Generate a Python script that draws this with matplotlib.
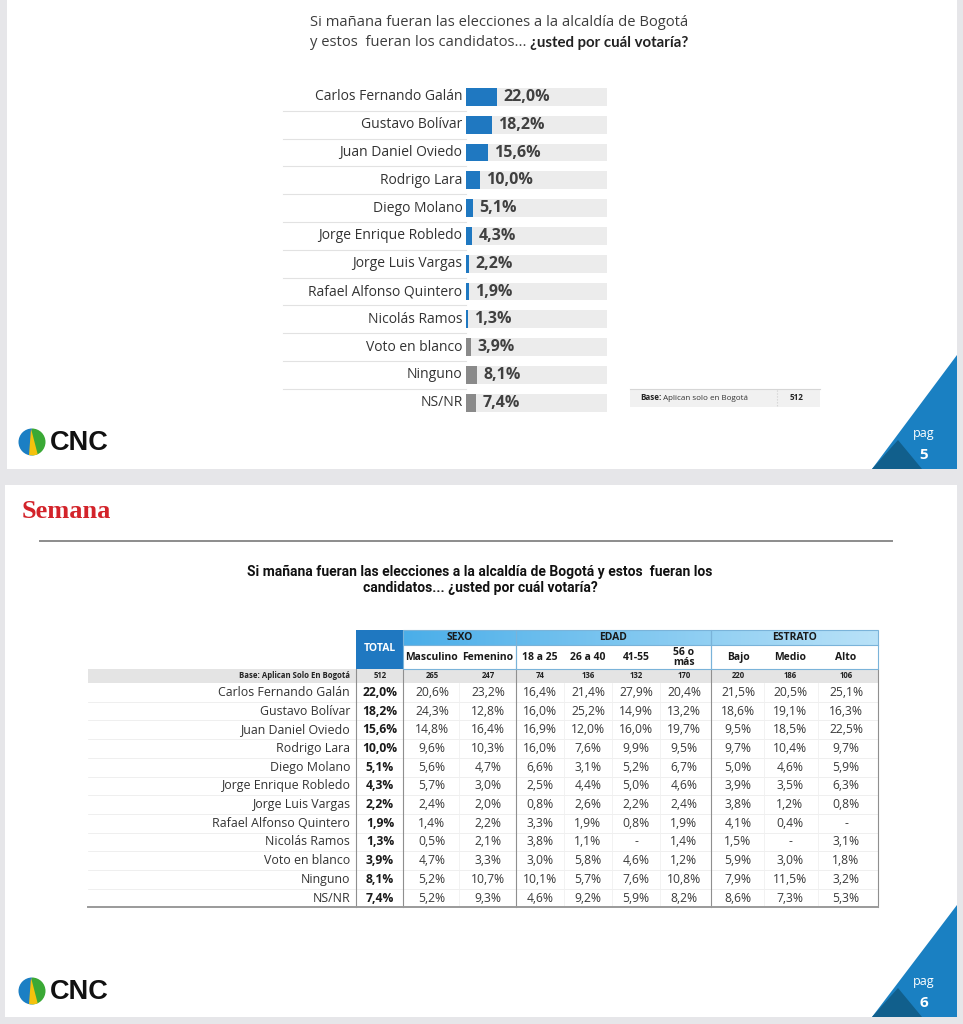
import numpy as np
import matplotlib
matplotlib.use("Agg")
from matplotlib import pyplot as plt
from matplotlib.patches import Rectangle, Polygon, Circle, Wedge

plt.rcParams['font.family'] = ['Open Sans', 'DejaVu Sans']

W, H = 963, 1024

# data
candidates = ["Carlos Fernando Galán", "Gustavo Bolívar", "Juan Daniel Oviedo", "Rodrigo Lara",
              "Diego Molano", "Jorge Enrique Robledo", "Jorge Luis Vargas", "Rafael Alfonso Quintero",
              "Nicolás Ramos", "Voto en blanco", "Ninguno", "NS/NR"]
total = [22.0, 18.2, 15.6, 10.0, 5.1, 4.3, 2.2, 1.9, 1.3, 3.9, 8.1, 7.4]
masculino = [20.6, 24.3, 14.8, 9.6, 5.6, 5.7, 2.4, 1.4, 0.5, 4.7, 5.2, 5.2]
femenino = [23.2, 12.8, 16.4, 10.3, 4.7, 3.0, 2.0, 2.2, 2.1, 3.3, 10.7, 9.3]
edad_18_25 = [16.4, 16.0, 16.9, 16.0, 6.6, 2.5, 0.8, 3.3, 3.8, 3.0, 10.1, 4.6]
edad_26_40 = [21.4, 25.2, 12.0, 7.6, 3.1, 4.4, 2.6, 1.9, 1.1, 5.8, 5.7, 9.2]
edad_41_55 = [27.9, 14.9, 16.0, 9.9, 5.2, 5.0, 2.2, 0.8, None, 4.6, 7.6, 5.9]
edad_56 = [20.4, 13.2, 19.7, 9.5, 6.7, 4.6, 2.4, 1.9, 1.4, 1.2, 10.8, 8.2]
estrato_bajo = [21.5, 18.6, 9.5, 9.7, 5.0, 3.9, 3.8, 4.1, 1.5, 5.9, 7.9, 8.6]
estrato_medio = [20.5, 19.1, 18.5, 10.4, 4.6, 3.5, 1.2, 0.4, None, 3.0, 11.5, 7.3]
estrato_alto = [25.1, 16.3, 22.5, 9.7, 5.9, 6.3, 0.8, None, 3.1, 1.8, 3.2, 5.3]

sub_headers = ["TOTAL", "Masculino", "Femenino", "18 a 25", "26 a 40", "41-55", "56 o\nmás", "Bajo", "Medio", "Alto"]
bases = [512, 265, 247, 74, 136, 132, 170, 220, 186, 106]
groups = ["SEXO", "EDAD", "ESTRATO"]

title_1 = "Si mañana fueran las elecciones a la alcaldía de Bogotá"
title_2a = "y estos  fueran los candidatos... "
title_2b = "¿usted por cuál votaría?"
title_table = ("Si mañana fueran las elecciones a la alcaldía de Bogotá y estos  fueran los\n"
               "candidatos... ¿usted por cuál votaría?")

BLUE = "#1f78c1"
DARK = "#3d3d3d"


def pct(v):
    if v is None:
        return "-"
    return f"{v:.1f}%".replace(".", ",")


fig = plt.figure(figsize=(W / 100, H / 100), dpi=100)
fig.patch.set_facecolor("#e6e6e9")
bg = fig.add_axes([0, 0, 1, 1])
bg.set_xlim(0, W)
bg.set_ylim(H, 0)
bg.axis("off")

# slides
bg.add_patch(Rectangle((7, 0), 950, 469, facecolor="white", edgecolor="none"))
bg.add_patch(Rectangle((5, 485), 952, 532, facecolor="white", edgecolor="none"))


def logo(cx, cy):
    r = 13.5
    circ = Circle((cx, cy), r, transform=bg.transData)
    bg.add_patch(Wedge((cx, cy), r, 90, 270, facecolor="#1b7fc4", edgecolor="none"))
    bg.add_patch(Wedge((cx, cy), r, 270, 90, facecolor="#3aa935", edgecolor="none"))
    yel = Polygon([(cx - 1, cy - r), (cx + 6, cy + r), (cx - 3, cy + r)],
                  facecolor="#f4c20d", edgecolor="none")
    bg.add_patch(yel)
    yel.set_clip_path(circ)
    bg.text(cx + 18, cy + 1, "CNC", fontsize=19.5, fontweight="bold", color="#111111",
            ha="left", va="center", family=["Liberation Sans", "DejaVu Sans"])


def corner(y_bottom, y_top, page):
    bg.add_patch(Polygon([(872, y_bottom), (957, y_bottom), (957, y_top)], facecolor="#1a80c2",
                         edgecolor="none"))
    bg.add_patch(Polygon([(872, y_bottom), (898, y_bottom - 29), (922, y_bottom)], facecolor="#115f8c",
                         edgecolor="none"))
    bg.text(924, y_bottom - 35, "pag", color="white", fontsize=9, ha="center", va="center")
    bg.text(924, y_bottom - 14, page, color="white", fontsize=11, fontweight="bold", ha="center",
            va="center")


logo(32, 442)
logo(32, 991)
corner(469, 355, "5")
corner(1017, 905, "6")

# slide 1 title
bg.text(310, 22, title_1, fontsize=10.6, color=DARK, ha="left", va="center")
t2 = bg.text(310, 42, title_2a, fontsize=10.6, color=DARK, ha="left", va="center")
bg.annotate(title_2b, xy=(1, 0), xycoords=t2, va="bottom", ha="left", fontsize=10.8,
            fontweight="bold", color="#222222", family=["Lato", "DejaVu Sans"])

# slide 1 bars
y0, step = 83, 27.8
n = len(candidates)
ax = fig.add_axes([466 / W, 1 - (y0 + n * step) / H, 141 / W, n * step / H])
ax.set_xlim(0, 100)
ax.set_ylim(n - 0.5, -0.5)
ax.axis("off")
ypos = np.arange(n)
ax.barh(ypos, [100] * n, height=0.64, color="#ececec", edgecolor="none")
colors = [BLUE] * 9 + ["#8a8a8a"] * 3
ax.barh(ypos, total, height=0.64, color=colors, edgecolor="none")
for i, (name, v) in enumerate(zip(candidates, total)):
    ax.text(-2.5, i, name, ha="right", va="center", fontsize=10, color="#333333", clip_on=False)
    ax.text(v + 4.5, i, pct(v), ha="left", va="center", fontsize=11.5, fontweight="bold",
            color="#404040")
for i in range(n - 1):
    yy = y0 + (i + 1) * step
    bg.plot([283, 466], [yy, yy], color="#e2e2e2", lw=0.8)

# base box slide 1
bg.add_patch(Rectangle((630, 389), 190, 18, facecolor="#f1f1f1", edgecolor="none"))
bg.plot([630, 820], [389, 389], color="#d6d6d6", lw=0.8)
bg.plot([777, 777], [390, 406], color="#cfcfcf", lw=0.8, ls=":")
tb = bg.text(640, 398, "Base:", fontsize=5.8, fontweight="bold", color="#222222", ha="left",
             va="center")
bg.annotate(" Aplican solo en Bogotá", xy=(1, 0), xycoords=tb, va="bottom", ha="left",
            fontsize=5.8, color="#333333")
bg.text(797, 398, "512", fontsize=5.8, fontweight="bold", color="#222222", ha="center", va="center")

# slide 2 header
bg.text(22, 511, "Semana", fontsize=19, fontweight="bold", color="#d3232a", ha="left", va="center",
        family=["Liberation Serif", "DejaVu Serif"])
bg.plot([40, 892], [541, 541], color="#8c8c8c", lw=1.4)
bg.text(480, 580, title_table, fontsize=10, fontweight="bold", color="#111111", ha="center",
        va="center", linespacing=1.15, family=["Roboto", "DejaVu Sans"])

# table
col_x = [380, 432, 488, 540, 588, 636, 684, 738, 790, 846]
group_span = [(403, 516), (516, 711), (711, 878)]
top, g_bot, h_bot, b_bot = 630, 645, 669, 683
row_h = 18.7
columns = [total, masculino, femenino, edad_18_25, edad_26_40, edad_41_55, edad_56,
           estrato_bajo, estrato_medio, estrato_alto]

grad = np.linspace(0, 1, 256).reshape(1, -1)
cmap = matplotlib.colors.LinearSegmentedColormap.from_list("hb", ["#4aaee9", "#b9e2f8"])
bg.imshow(grad, extent=(403, 878, g_bot, top), cmap=cmap, aspect="auto", zorder=1)
bg.add_patch(Rectangle((356, top), 47, h_bot - top, facecolor=BLUE, edgecolor="none", zorder=2))
bg.add_patch(Rectangle((403, g_bot), 475, h_bot - g_bot, facecolor="white", edgecolor="none", zorder=2))
for x0, x1 in group_span:
    bg.add_patch(Rectangle((x0, top), x1 - x0, h_bot - top, facecolor="none", edgecolor="#7ab3d9",
                           lw=0.8, zorder=3))
bg.plot([403, 878], [g_bot, g_bot], color="#7ab3d9", lw=0.8, zorder=3)
for g, (x0, x1) in zip(groups, group_span):
    bg.text((x0 + x1) / 2, (top + g_bot) / 2 + 0.5, g, fontsize=7.5, fontweight="bold", color="#1a1a1a",
            ha="center", va="center", zorder=4)
bg.text(col_x[0], (top + h_bot) / 2 - 1, sub_headers[0], fontsize=7.5, fontweight="bold",
        color="white", ha="center", va="center", zorder=4)
for x, s in zip(col_x[1:], sub_headers[1:]):
    bg.text(x, (g_bot + h_bot) / 2 + 0.5, s, fontsize=7.5, fontweight="bold", color="#1a1a1a",
            ha="center", va="center", linespacing=0.9, zorder=4)

# base row
bg.add_patch(Rectangle((88, h_bot), 790, b_bot - h_bot, facecolor="#e4e4e4", edgecolor="none"))
bg.text(350, (h_bot + b_bot) / 2, "Base: Aplican Solo En Bogotá", fontsize=5.6, fontweight="bold",
        color="#222222", ha="right", va="center")
for x, b in zip(col_x, bases):
    bg.text(x, (h_bot + b_bot) / 2, str(b), fontsize=5.6, fontweight="bold", color="#222222",
            ha="center", va="center")

# body
for i, name in enumerate(candidates):
    yc = b_bot + (i + 0.5) * row_h
    bg.text(350, yc, name, fontsize=8.9, color="#333333", ha="right", va="center")
    for j, (x, col) in enumerate(zip(col_x, columns)):
        bg.text(x, yc, pct(col[i]), fontsize=8.7, color="#1a1a1a" if j == 0 else "#3a3a3a",
                fontweight="bold" if j == 0 else "normal", ha="center", va="center")
    if i > 0:
        yy = b_bot + i * row_h
        bg.plot([88, 878], [yy, yy], color="#ededed", lw=0.6)
b_end = b_bot + n * row_h
for x in [459, 564, 612, 660, 764, 818]:
    bg.plot([x, x], [b_bot, b_end], color="#f0f0f0", lw=0.6)
for x in [356, 403, 516, 711, 878]:
    bg.plot([x, x], [h_bot, b_end], color="#8f8f8f", lw=0.8)
bg.plot([88, 878], [b_end, b_end], color="#9a9a9a", lw=1.4)

fig.savefig("out.png", dpi=100, facecolor=fig.get_facecolor())
